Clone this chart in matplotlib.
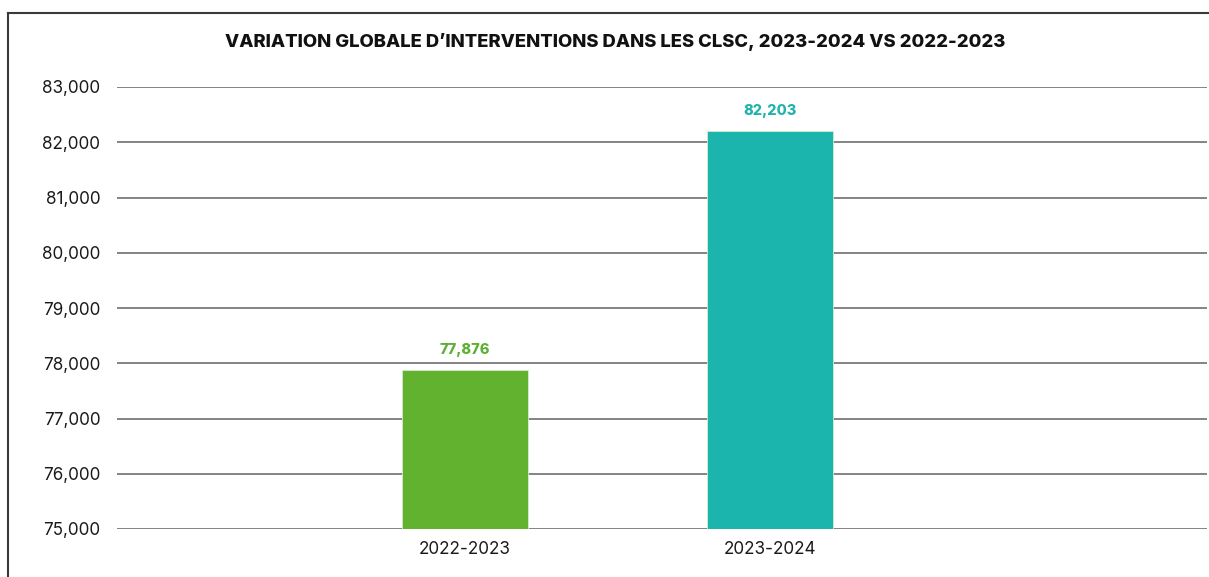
import matplotlib
matplotlib.use("Agg")
import matplotlib.pyplot as plt
from matplotlib.lines import Line2D
from matplotlib.ticker import FuncFormatter

categories = ["2022-2023", "2023-2024"]
values = [77876, 82203]
bar_colors = ["#62B22F", "#1CB5AE"]
label_colors = ["#5DB033", "#1FB3AC"]
title = "VARIATION GLOBALE D\u2019INTERVENTIONS DANS LES CLSC, 2023-2024 VS 2022-2023"

plt.rcParams['font.family'] = ['Inter', 'DejaVu Sans']

fig = plt.figure(figsize=(12.09, 5.77), dpi=100)
ax = fig.add_axes([117 / 1209, 1 - 529 / 577, 1090 / 1209, 442 / 577])

x = list(range(len(categories)))
ax.bar(x, values, width=0.413, color=bar_colors, edgecolor="#d8ecd0",
       linewidth=0.6, zorder=3)
for xi, v, c in zip(x, values, label_colors):
    ax.annotate(f"{v:,}", (xi, v), xytext=(0, 9.5), textcoords="offset points",
                ha="center", va="bottom", color=c, fontsize=10.5,
                fontweight="heavy", zorder=4)

ax.set_ylim(75000, 83000)
ax.set_xlim(-1.141, 2.433)
ax.set_yticks(range(75000, 83001, 1000))
ax.yaxis.set_major_formatter(FuncFormatter(lambda v, p: f"{int(v):,}"))
ax.set_xticks(x)
ax.set_xticklabels(categories)
ax.grid(axis="y", color="#7a7a7a", linewidth=1.3, zorder=1)
ax.tick_params(axis="both", length=0, labelsize=12.3, colors="#1a1a1a")
ax.tick_params(axis="y", pad=12)
ax.tick_params(axis="x", pad=9)
for s in ax.spines.values():
    s.set_visible(False)

fig.text(615 / 1209, 1 - 42 / 577, title, ha="center", va="center",
         fontsize=13.3, fontweight="heavy", color="#111111")

# outer frame (top and left edges visible)
fig.add_artist(Line2D([7.5 / 1209, 1], [1 - 12.5 / 577, 1 - 12.5 / 577],
                      transform=fig.transFigure, color="#3a3a3a", linewidth=1.5))
fig.add_artist(Line2D([7.5 / 1209, 7.5 / 1209], [0, 1 - 12.5 / 577],
                      transform=fig.transFigure, color="#3a3a3a", linewidth=1.5))

fig.savefig("out.png", dpi=100)
